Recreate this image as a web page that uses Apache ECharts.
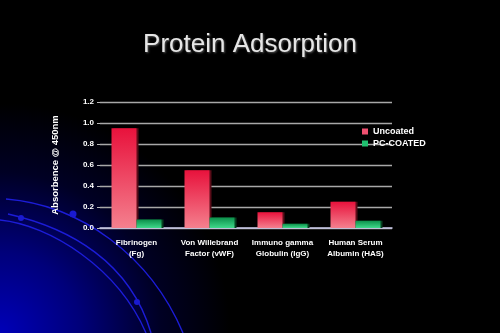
<!DOCTYPE html>
<html>
<head>
<meta charset="utf-8">
<script src="https://cdn.jsdelivr.net/npm/echarts@6/dist/echarts.min.js"></script>
<style>
  html, body { margin: 0; padding: 0; background: #000; }
  #chart { width: 500px; height: 333px; }
</style>
</head>
<body>
<div id="chart"></div>
<script>
// Protein adsorption measured as absorbance at 450 nm
const categories = [
  'Fibrinogen\n(Fg)',
  'Von Willebrand\nFactor (vWF)',
  'Immuno gamma\nGlobulin (IgG)',
  'Human Serum\nAlbumin (HAS)'
];
const uncoated = [0.95, 0.55, 0.15, 0.25];
const pcCoated = [0.08, 0.10, 0.04, 0.07];
const yTicks = ['0.0', '0.2', '0.4', '0.6', '0.8', '1.0', '1.2'];

const chart = echarts.init(document.getElementById('chart'), null, { renderer: 'canvas' });

const redFill = new echarts.graphic.LinearGradient(0, 0, 0, 1, [
  { offset: 0, color: '#e8123c' },
  { offset: 1, color: '#f4808e' }
]);
const greenFill = new echarts.graphic.LinearGradient(0, 0, 0, 1, [
  { offset: 0, color: '#0c8f4a' },
  { offset: 1, color: '#3fd98a' }
]);

// decorative sweep lines in the lower-left corner of the slide
const arcStyle = { stroke: '#1c1cd8', lineWidth: 1.4, fill: null };
const dotStyle = { fill: '#1a1ad0' };

chart.setOption({
  backgroundColor: '#000',
  graphic: [
    {
      type: 'rect', z: -10, silent: true,
      shape: { x: 0, y: 0, width: 500, height: 333 },
      style: {
        fill: new echarts.graphic.RadialGradient(0, 333, 230, [
          { offset: 0, color: '#0000b8' },
          { offset: 0.35, color: '#00007a' },
          { offset: 0.7, color: '#000024' },
          { offset: 1, color: '#000000' }
        ], true)
      }
    },
    { type: 'bezierCurve', z: -5, silent: true,
      shape: { x1: 6, y1: 199, x2: 183, y2: 333, cpx1: 80, cpy1: 205, cpx2: 150, cpy2: 255 },
      style: arcStyle },
    { type: 'bezierCurve', z: -5, silent: true,
      shape: { x1: 8, y1: 214, x2: 151, y2: 333, cpx1: 70, cpy1: 228, cpx2: 130, cpy2: 262 },
      style: arcStyle },
    { type: 'bezierCurve', z: -5, silent: true,
      shape: { x1: 0, y1: 220, x2: 146, y2: 333, cpx1: 50, cpy1: 225, cpx2: 118, cpy2: 268 },
      style: arcStyle },
    { type: 'circle', z: -4, silent: true, shape: { cx: 21, cy: 218, r: 3 }, style: dotStyle },
    { type: 'circle', z: -4, silent: true, shape: { cx: 73, cy: 214, r: 3.5 }, style: dotStyle },
    { type: 'circle', z: -4, silent: true, shape: { cx: 137, cy: 302, r: 3 }, style: dotStyle }
  ],
  title: {
    text: 'Protein Adsorption',
    left: 'center',
    top: 27,
    textStyle: {
      color: '#e6e6e6',
      fontFamily: 'Liberation Sans, Arial, sans-serif',
      fontWeight: 'normal',
      fontSize: 26,
      textShadowColor: '#555',
      textShadowBlur: 2,
      textShadowOffsetX: 1,
      textShadowOffsetY: 1
    }
  },
  legend: {
    orient: 'vertical',
    left: 357,
    top: 122,
    itemWidth: 6,
    itemHeight: 6,
    itemGap: 3,
    icon: 'rect',
    textStyle: { color: '#fff', fontSize: 9, fontWeight: 'bold', fontFamily: 'Liberation Sans, Arial, sans-serif' },
    data: [
      { name: 'Uncoated', itemStyle: { color: '#f05070' } },
      { name: 'PC-COATED', itemStyle: { color: '#20c070' } }
    ]
  },
  grid: { left: 100, right: 108, top: 102, bottom: 105, containLabel: false },
  xAxis: {
    type: 'category',
    data: categories,
    axisLine: { show: true, lineStyle: { color: '#c8c8e8', width: 1.5 } },
    axisTick: { show: false },
    axisLabel: {
      color: '#fff',
      fontSize: 8,
      fontWeight: 'bold',
      fontFamily: 'Liberation Sans, Arial, sans-serif',
      lineHeight: 11,
      margin: 9,
      interval: 0
    }
  },
  yAxis: {
    type: 'value',
    min: 0,
    max: 1.2,
    interval: 0.2,
    name: 'Absorbence @ 450nm',
    nameLocation: 'middle',
    nameGap: 40,
    nameRotate: 90,
    nameTextStyle: { color: '#fff', fontSize: 9.5, fontWeight: 'bold', fontFamily: 'Liberation Sans, Arial, sans-serif' },
    axisLine: { show: false },
    axisTick: { show: true, length: 3, lineStyle: { color: '#bbb' } },
    splitLine: { lineStyle: { color: '#a8a8a8', width: 1.3 } },
    axisLabel: {
      color: '#fff',
      fontSize: 8,
      fontWeight: 'bold',
      fontFamily: 'Liberation Sans, Arial, sans-serif',
      margin: 6,
      formatter: (v) => yTicks[Math.round(v / 0.2)]
    }
  },
  series: [
    {
      name: 'Uncoated',
      type: 'bar',
      data: uncoated,
      barWidth: 25,
      barGap: '0%',
      itemStyle: {
        color: redFill,
        shadowColor: '#5a0c18',
        shadowOffsetX: 2,
        shadowOffsetY: 0
      }
    },
    {
      name: 'PC-COATED',
      type: 'bar',
      data: pcCoated,
      barWidth: 25,
      itemStyle: {
        color: greenFill,
        shadowColor: '#064020',
        shadowOffsetX: 2,
        shadowOffsetY: 0
      }
    }
  ]
});
</script>
</body>
</html>
